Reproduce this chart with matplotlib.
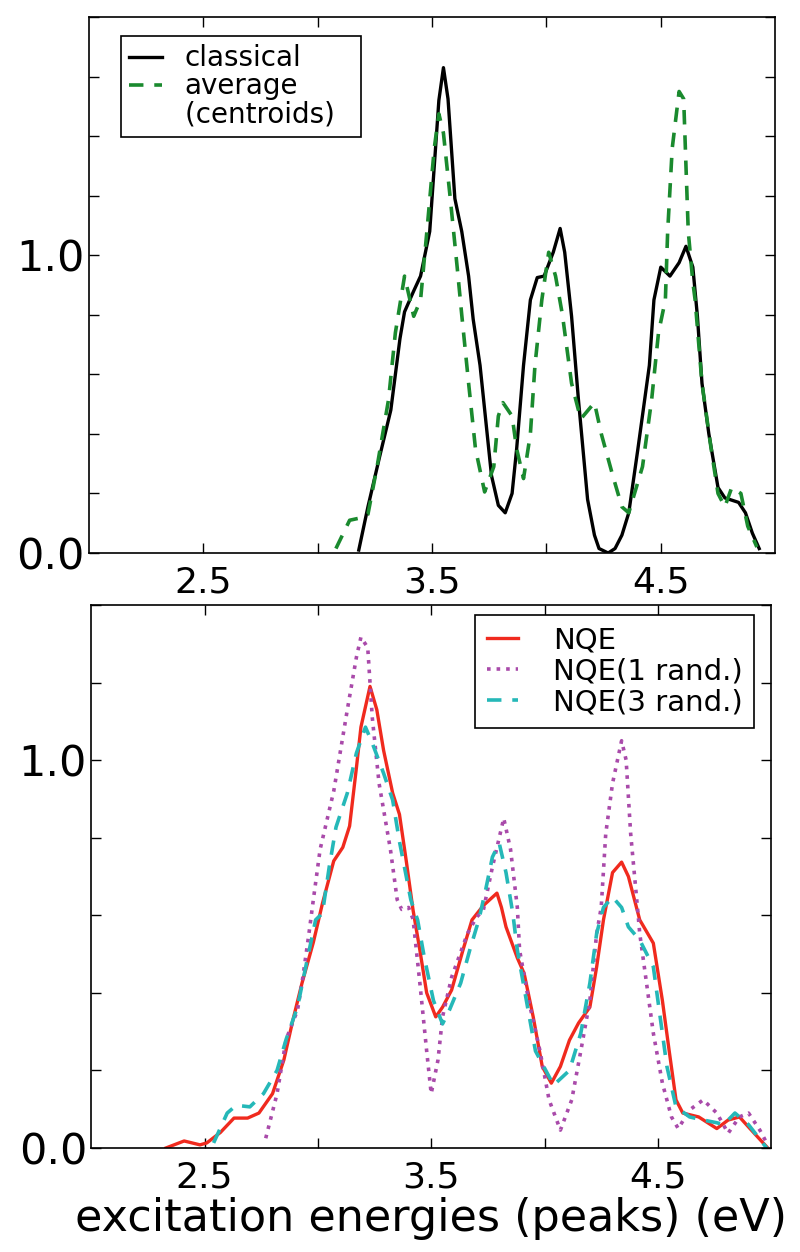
import numpy as np
import matplotlib
matplotlib.use("Agg")
from matplotlib import pyplot as plt

# top panel: classical vs. average (centroids)
x_classical = [3.18, 3.22, 3.27, 3.32, 3.36, 3.38, 3.42, 3.45, 3.49, 3.51, 3.53, 3.55,
               3.57, 3.60, 3.63, 3.66, 3.68, 3.71, 3.76, 3.79, 3.82, 3.85, 3.87, 3.90,
               3.93, 3.96, 3.99, 4.03, 4.06, 4.08, 4.11, 4.14, 4.18, 4.21, 4.23, 4.27,
               4.30, 4.33, 4.36, 4.40, 4.45, 4.47, 4.50, 4.54, 4.58, 4.61, 4.64, 4.66,
               4.68, 4.71, 4.75, 4.78, 4.80, 4.84, 4.87, 4.90, 4.93]
y_classical = [0.01, 0.155, 0.32, 0.48, 0.72, 0.81, 0.88, 0.93, 1.08, 1.30, 1.52, 1.63,
               1.525, 1.19, 1.08, 0.93, 0.785, 0.63, 0.26, 0.16, 0.135, 0.20, 0.35, 0.63,
               0.85, 0.925, 0.93, 1.01, 1.09, 1.01, 0.795, 0.515, 0.18, 0.06, 0.015, 0.0,
               0.015, 0.06, 0.135, 0.35, 0.63, 0.85, 0.96, 0.93, 0.975, 1.03, 0.96, 0.795,
               0.57, 0.40, 0.22, 0.185, 0.18, 0.17, 0.135, 0.067, 0.015]

x_average = [3.08, 3.14, 3.20, 3.22, 3.26, 3.31, 3.34, 3.38, 3.42, 3.45, 3.48, 3.51,
             3.53, 3.55, 3.58, 3.61, 3.63, 3.66, 3.69, 3.73, 3.77, 3.79, 3.81, 3.85,
             3.87, 3.90, 3.93, 3.95, 3.98, 4.01, 4.04, 4.07, 4.11, 4.15, 4.21, 4.24,
             4.29, 4.33, 4.36, 4.42, 4.46, 4.49, 4.52, 4.53, 4.55, 4.58, 4.60, 4.61,
             4.62, 4.64, 4.65, 4.68, 4.72, 4.75, 4.78, 4.81, 4.85, 4.88, 4.92]
y_average = [0.015, 0.11, 0.12, 0.13, 0.29, 0.515, 0.74, 0.93, 0.795, 0.85, 1.10, 1.36,
             1.475, 1.41, 1.19, 0.96, 0.80, 0.57, 0.35, 0.205, 0.29, 0.46, 0.505, 0.46,
             0.35, 0.25, 0.40, 0.63, 0.85, 1.01, 0.93, 0.80, 0.57, 0.45, 0.505, 0.40,
             0.26, 0.155, 0.135, 0.29, 0.515, 0.74, 0.85, 1.08, 1.36, 1.55, 1.525, 1.30,
             1.08, 0.91, 0.85, 0.57, 0.35, 0.20, 0.155, 0.22, 0.20, 0.09, 0.02]

# bottom panel: nuclear quantum effects
x_nqe = [2.33, 2.41, 2.48, 2.51, 2.57, 2.63, 2.69, 2.74, 2.80, 2.85, 2.89, 2.93,
         2.98, 3.02, 3.07, 3.11, 3.14, 3.17, 3.19, 3.23, 3.26, 3.29, 3.33, 3.36,
         3.39, 3.42, 3.45, 3.48, 3.52, 3.55, 3.59, 3.64, 3.68, 3.73, 3.79, 3.81,
         3.83, 3.88, 3.91, 3.95, 3.99, 4.03, 4.07, 4.11, 4.15, 4.20, 4.23, 4.26,
         4.30, 4.34, 4.37, 4.42, 4.48, 4.52, 4.55, 4.58, 4.61, 4.68, 4.76, 4.81,
         4.86, 4.90, 4.98]
y_nqe = [0.0, 0.018, 0.008, 0.013, 0.04, 0.077, 0.077, 0.09, 0.14, 0.227, 0.33, 0.425,
         0.53, 0.63, 0.74, 0.775, 0.83, 0.98, 1.085, 1.19, 1.13, 1.025, 0.915, 0.86,
         0.74, 0.613, 0.51, 0.40, 0.338, 0.363, 0.407, 0.51, 0.588, 0.625, 0.657, 0.62,
         0.57, 0.49, 0.45, 0.338, 0.21, 0.167, 0.21, 0.278, 0.322, 0.363, 0.467, 0.588,
         0.71, 0.737, 0.70, 0.588, 0.528, 0.38, 0.25, 0.124, 0.09, 0.08, 0.05, 0.072,
         0.08, 0.054, 0.003]

x_nqe1 = [2.77, 2.82, 2.86, 2.91, 2.93, 2.96, 2.98, 3.01, 3.07, 3.13, 3.17, 3.19,
          3.22, 3.24, 3.27, 3.32, 3.35, 3.37, 3.40, 3.42, 3.45, 3.48, 3.50, 3.53,
          3.55, 3.59, 3.66, 3.70, 3.73, 3.77, 3.82, 3.85, 3.88, 3.89, 3.93, 3.98,
          4.02, 4.07, 4.12, 4.16, 4.20, 4.23, 4.25, 4.27, 4.30, 4.34, 4.36, 4.38,
          4.41, 4.42, 4.45, 4.48, 4.52, 4.56, 4.59, 4.64, 4.70, 4.76, 4.81, 4.86,
          4.90, 4.95, 4.98]
y_nqe1 = [0.025, 0.14, 0.28, 0.355, 0.425, 0.55, 0.64, 0.77, 0.92, 1.13, 1.265, 1.317,
          1.29, 1.11, 0.94, 0.77, 0.64, 0.615, 0.62, 0.59, 0.425, 0.25, 0.14, 0.227,
          0.338, 0.44, 0.553, 0.595, 0.613, 0.724, 0.85, 0.77, 0.62, 0.51, 0.38, 0.25,
          0.124, 0.046, 0.124, 0.25, 0.38, 0.553, 0.62, 0.81, 0.94, 1.05, 1.0, 0.81,
          0.62, 0.553, 0.425, 0.296, 0.167, 0.08, 0.05, 0.098, 0.124, 0.09, 0.038, 0.08,
          0.09, 0.046, 0.013]

x_nqe3 = [2.54, 2.60, 2.64, 2.70, 2.76, 2.82, 2.86, 2.91, 2.95, 2.99, 3.02, 3.05,
          3.08, 3.13, 3.17, 3.21, 3.24, 3.29, 3.33, 3.36, 3.41, 3.44, 3.47, 3.51,
          3.55, 3.58, 3.63, 3.67, 3.71, 3.74, 3.77, 3.80, 3.83, 3.86, 3.88, 3.92,
          3.96, 4.04, 4.11, 4.16, 4.20, 4.23, 4.26, 4.30, 4.34, 4.37, 4.42, 4.48,
          4.51, 4.54, 4.58, 4.64, 4.70, 4.76, 4.79, 4.84, 4.90, 4.98]
y_nqe3 = [0.013, 0.09, 0.11, 0.106, 0.14, 0.20, 0.28, 0.363, 0.477, 0.588, 0.605, 0.724,
          0.827, 0.915, 1.018, 1.085, 1.044, 0.966, 0.897, 0.79, 0.64, 0.588, 0.49, 0.38,
          0.32, 0.355, 0.425, 0.51, 0.588, 0.665, 0.75, 0.786, 0.71, 0.605, 0.51, 0.38,
          0.25, 0.162, 0.20, 0.296, 0.425, 0.553, 0.62, 0.647, 0.62, 0.57, 0.536, 0.467,
          0.338, 0.21, 0.106, 0.08, 0.072, 0.065, 0.06, 0.09, 0.06, 0.0]

x_ticks = [2.5, 3.0, 3.5, 4.0, 4.5]
x_ticklabels = ["2.5", "", "3.5", "", "4.5"]


def style_axes(ax, ymax):
    ax.set_xlim(2.0, 5.0)
    ax.set_ylim(0.0, ymax)
    ax.set_xticks(x_ticks)
    ax.set_xticklabels(x_ticklabels)
    yt = np.arange(0.0, ymax + 0.001, 0.2)
    ax.set_yticks(yt)
    ax.set_yticklabels(["0.0" if abs(v) < 1e-9 else ("1.0" if abs(v - 1) < 1e-9 else "")
                        for v in yt])
    ax.tick_params(direction="in", top=True, right=True, length=7, width=1.0)
    ax.tick_params(axis="x", labelsize=26, pad=9)
    ax.tick_params(axis="y", labelsize=31, pad=3)
    for sp in ax.spines.values():
        sp.set_linewidth(1.2)


fig = plt.figure(figsize=(8, 12.52), dpi=100)

ax1 = fig.add_axes([0.111, 0.5583, 0.858, 0.4281])
ax1.plot(x_classical, y_classical, "-", color="black", lw=2.4,
         solid_joinstyle="round", label="classical")
ax1.plot(x_average, y_average, "--", color="#1a8a2e", lw=2.6, dashes=(4, 3),
         label="average")
# second line of the "average" legend entry, no handle of its own
ax1.plot([], [], color="none", label="(centroids)  ")
style_axes(ax1, 1.8)
ax1.legend(loc="upper left", bbox_to_anchor=(0.0466, 0.9646), borderaxespad=0,
           fontsize=20, frameon=True, fancybox=False, handlelength=1.2,
           handletextpad=0.8, labelspacing=0.0, borderpad=0.3,
           edgecolor="black", framealpha=1)

ax2 = fig.add_axes([0.114, 0.0831, 0.85, 0.4337])
ax2.plot(x_nqe, y_nqe, "-", color="#f02a1e", lw=2.4, solid_joinstyle="round",
         label="NQE")
ax2.plot(x_nqe1, y_nqe1, ":", color="#a94aaa", lw=2.6, label="NQE(1 rand.)")
ax2.plot(x_nqe3, y_nqe3, "--", color="#25b8b8", lw=2.6, dashes=(4, 3),
         label="NQE(3 rand.)")
style_axes(ax2, 1.4)
ax2.set_xlabel("excitation energies (peaks) (eV)", fontsize=32, labelpad=2)
ax2.legend(loc="upper right", bbox_to_anchor=(0.975, 0.9816), borderaxespad=0,
           fontsize=21, frameon=True, fancybox=False, handlelength=1.05,
           handletextpad=1.2, labelspacing=0.1, edgecolor="black", framealpha=1)

for leg in (ax1.get_legend(), ax2.get_legend()):
    leg.get_frame().set_linewidth(1.2)

plt.savefig("out.png", dpi=100)
